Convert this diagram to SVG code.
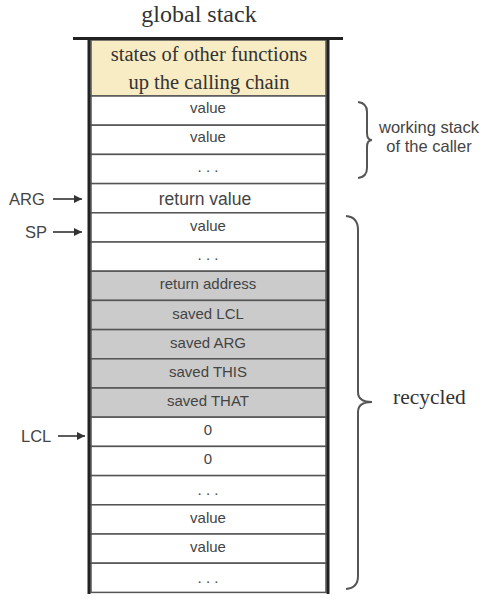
<svg xmlns="http://www.w3.org/2000/svg" width="495" height="600" viewBox="0 0 495 600">
<defs>
<style>
.cell{fill:#fff;stroke:#555;stroke-width:1.5}
.saved{fill:#cbcbcb;stroke:#555;stroke-width:1.5}
.t{font-family:"Liberation Sans",Arial,sans-serif;font-size:15px;fill:#444;text-anchor:middle}
.rv{font-size:17.5px}
.serif{font-family:"Liberation Serif","Times New Roman",serif;fill:#333}
.lbl{font-family:"Liberation Sans",Arial,sans-serif;font-size:16.5px;fill:#444}
.brace{fill:none;stroke:#555;stroke-width:2}
.arr{stroke:#333;stroke-width:1.6;fill:none}
</style>
<marker id="ah" viewBox="0 0 10 10" refX="10" refY="5" markerWidth="10" markerHeight="8" orient="auto" markerUnits="userSpaceOnUse">
<path d="M0,0 L10,5 L0,10 z" fill="#333"/>
</marker>
</defs>
<rect width="495" height="600" fill="#fff"/>
<text class="serif" x="199" y="22" font-size="24" text-anchor="middle">global stack</text>

<g id="stack">
<g id="top">
<rect x="91" y="40" width="235" height="56" fill="#f8ecc4" stroke="#555" stroke-width="1.5"/>
<text class="serif" x="209" y="61" font-size="20.5" text-anchor="middle">states of other functions</text>
<text class="serif" x="209" y="89" font-size="20.5" text-anchor="middle">up the calling chain</text>
</g>
<g id="r1"><rect class="cell" x="91" y="96" width="235" height="29.2"/><text class="t" x="208" y="113">value</text></g>
<g id="r2"><rect class="cell" x="91" y="125.2" width="235" height="29.2"/><text class="t" x="208" y="142">value</text></g>
<g id="r3"><rect class="cell" x="91" y="154.4" width="235" height="29.2"/><text class="t" x="208" y="172">. . .</text></g>
<g id="r4"><rect class="cell" x="91" y="183.6" width="235" height="29.2"/><text class="t rv" x="205" y="205">return value</text></g>
<g id="r5"><rect class="cell" x="91" y="212.8" width="235" height="29.2"/><text class="t" x="208" y="231">value</text></g>
<g id="r6"><rect class="cell" x="91" y="242" width="235" height="29.2"/><text class="t" x="208" y="260">. . .</text></g>
<g id="r7"><rect class="saved" x="91" y="271.2" width="235" height="29.2"/><text class="t" x="208" y="289">return address</text></g>
<g id="r8"><rect class="saved" x="91" y="300.4" width="235" height="29.2"/><text class="t" x="208" y="319">saved LCL</text></g>
<g id="r9"><rect class="saved" x="91" y="329.6" width="235" height="29.2"/><text class="t" x="208" y="348">saved ARG</text></g>
<g id="r10"><rect class="saved" x="91" y="358.8" width="235" height="29.2"/><text class="t" x="208" y="377">saved THIS</text></g>
<g id="r11"><rect class="saved" x="91" y="388" width="235" height="29.2"/><text class="t" x="208" y="406">saved THAT</text></g>
<g id="r12"><rect class="cell" x="91" y="417.2" width="235" height="29.2"/><text class="t" x="208" y="435">0</text></g>
<g id="r13"><rect class="cell" x="91" y="446.4" width="235" height="29.2"/><text class="t" x="208" y="464">0</text></g>
<g id="r14"><rect class="cell" x="91" y="475.6" width="235" height="29.2"/><text class="t" x="208" y="495">. . .</text></g>
<g id="r15"><rect class="cell" x="91" y="504.8" width="235" height="29.2"/><text class="t" x="208" y="523">value</text></g>
<g id="r16"><rect class="cell" x="91" y="534" width="235" height="29.2"/><text class="t" x="208" y="552">value</text></g>
<g id="r17"><rect class="cell" x="91" y="563.2" width="235" height="29.2"/><text class="t" x="208" y="583">. . .</text></g>
<line x1="73" y1="38.5" x2="343" y2="38.5" stroke="#222" stroke-width="3"/>
<line x1="89" y1="38" x2="89" y2="594" stroke="#222" stroke-width="3"/>
<line x1="328" y1="38" x2="328" y2="594" stroke="#222" stroke-width="3"/>
</g>

<g id="connectors">
<line class="arr" x1="53" y1="199" x2="82" y2="199" marker-end="url(#ah)"/>
<line class="arr" x1="53" y1="232" x2="82" y2="232" marker-end="url(#ah)"/>
<line class="arr" x1="58" y1="436" x2="85" y2="436" marker-end="url(#ah)"/>
</g>

<g id="pointers">
<text class="lbl" x="9" y="205">ARG</text>
<text class="lbl" x="25" y="238">SP</text>
<text class="lbl" x="21" y="442">LCL</text>
</g>

<g id="brace-working">
<path class="brace" d="M358,102 Q367,103 367,112 L367,133 Q367,140 372,140 Q367,140 367,147 L367,168 Q367,177 358,178"/>
<text class="lbl" x="429" y="133" font-size="15" text-anchor="middle">working stack</text>
<text class="lbl" x="429" y="152" font-size="15" text-anchor="middle">of the caller</text>
</g>

<g id="brace-recycled">
<path class="brace" d="M346,216 Q358,217 358,230 L358,392 Q358,402 372,402 Q358,402 358,412 L358,576 Q358,588 346,589"/>
<text class="serif" x="393" y="404" font-size="21.5">recycled</text>
</g>
</svg>
